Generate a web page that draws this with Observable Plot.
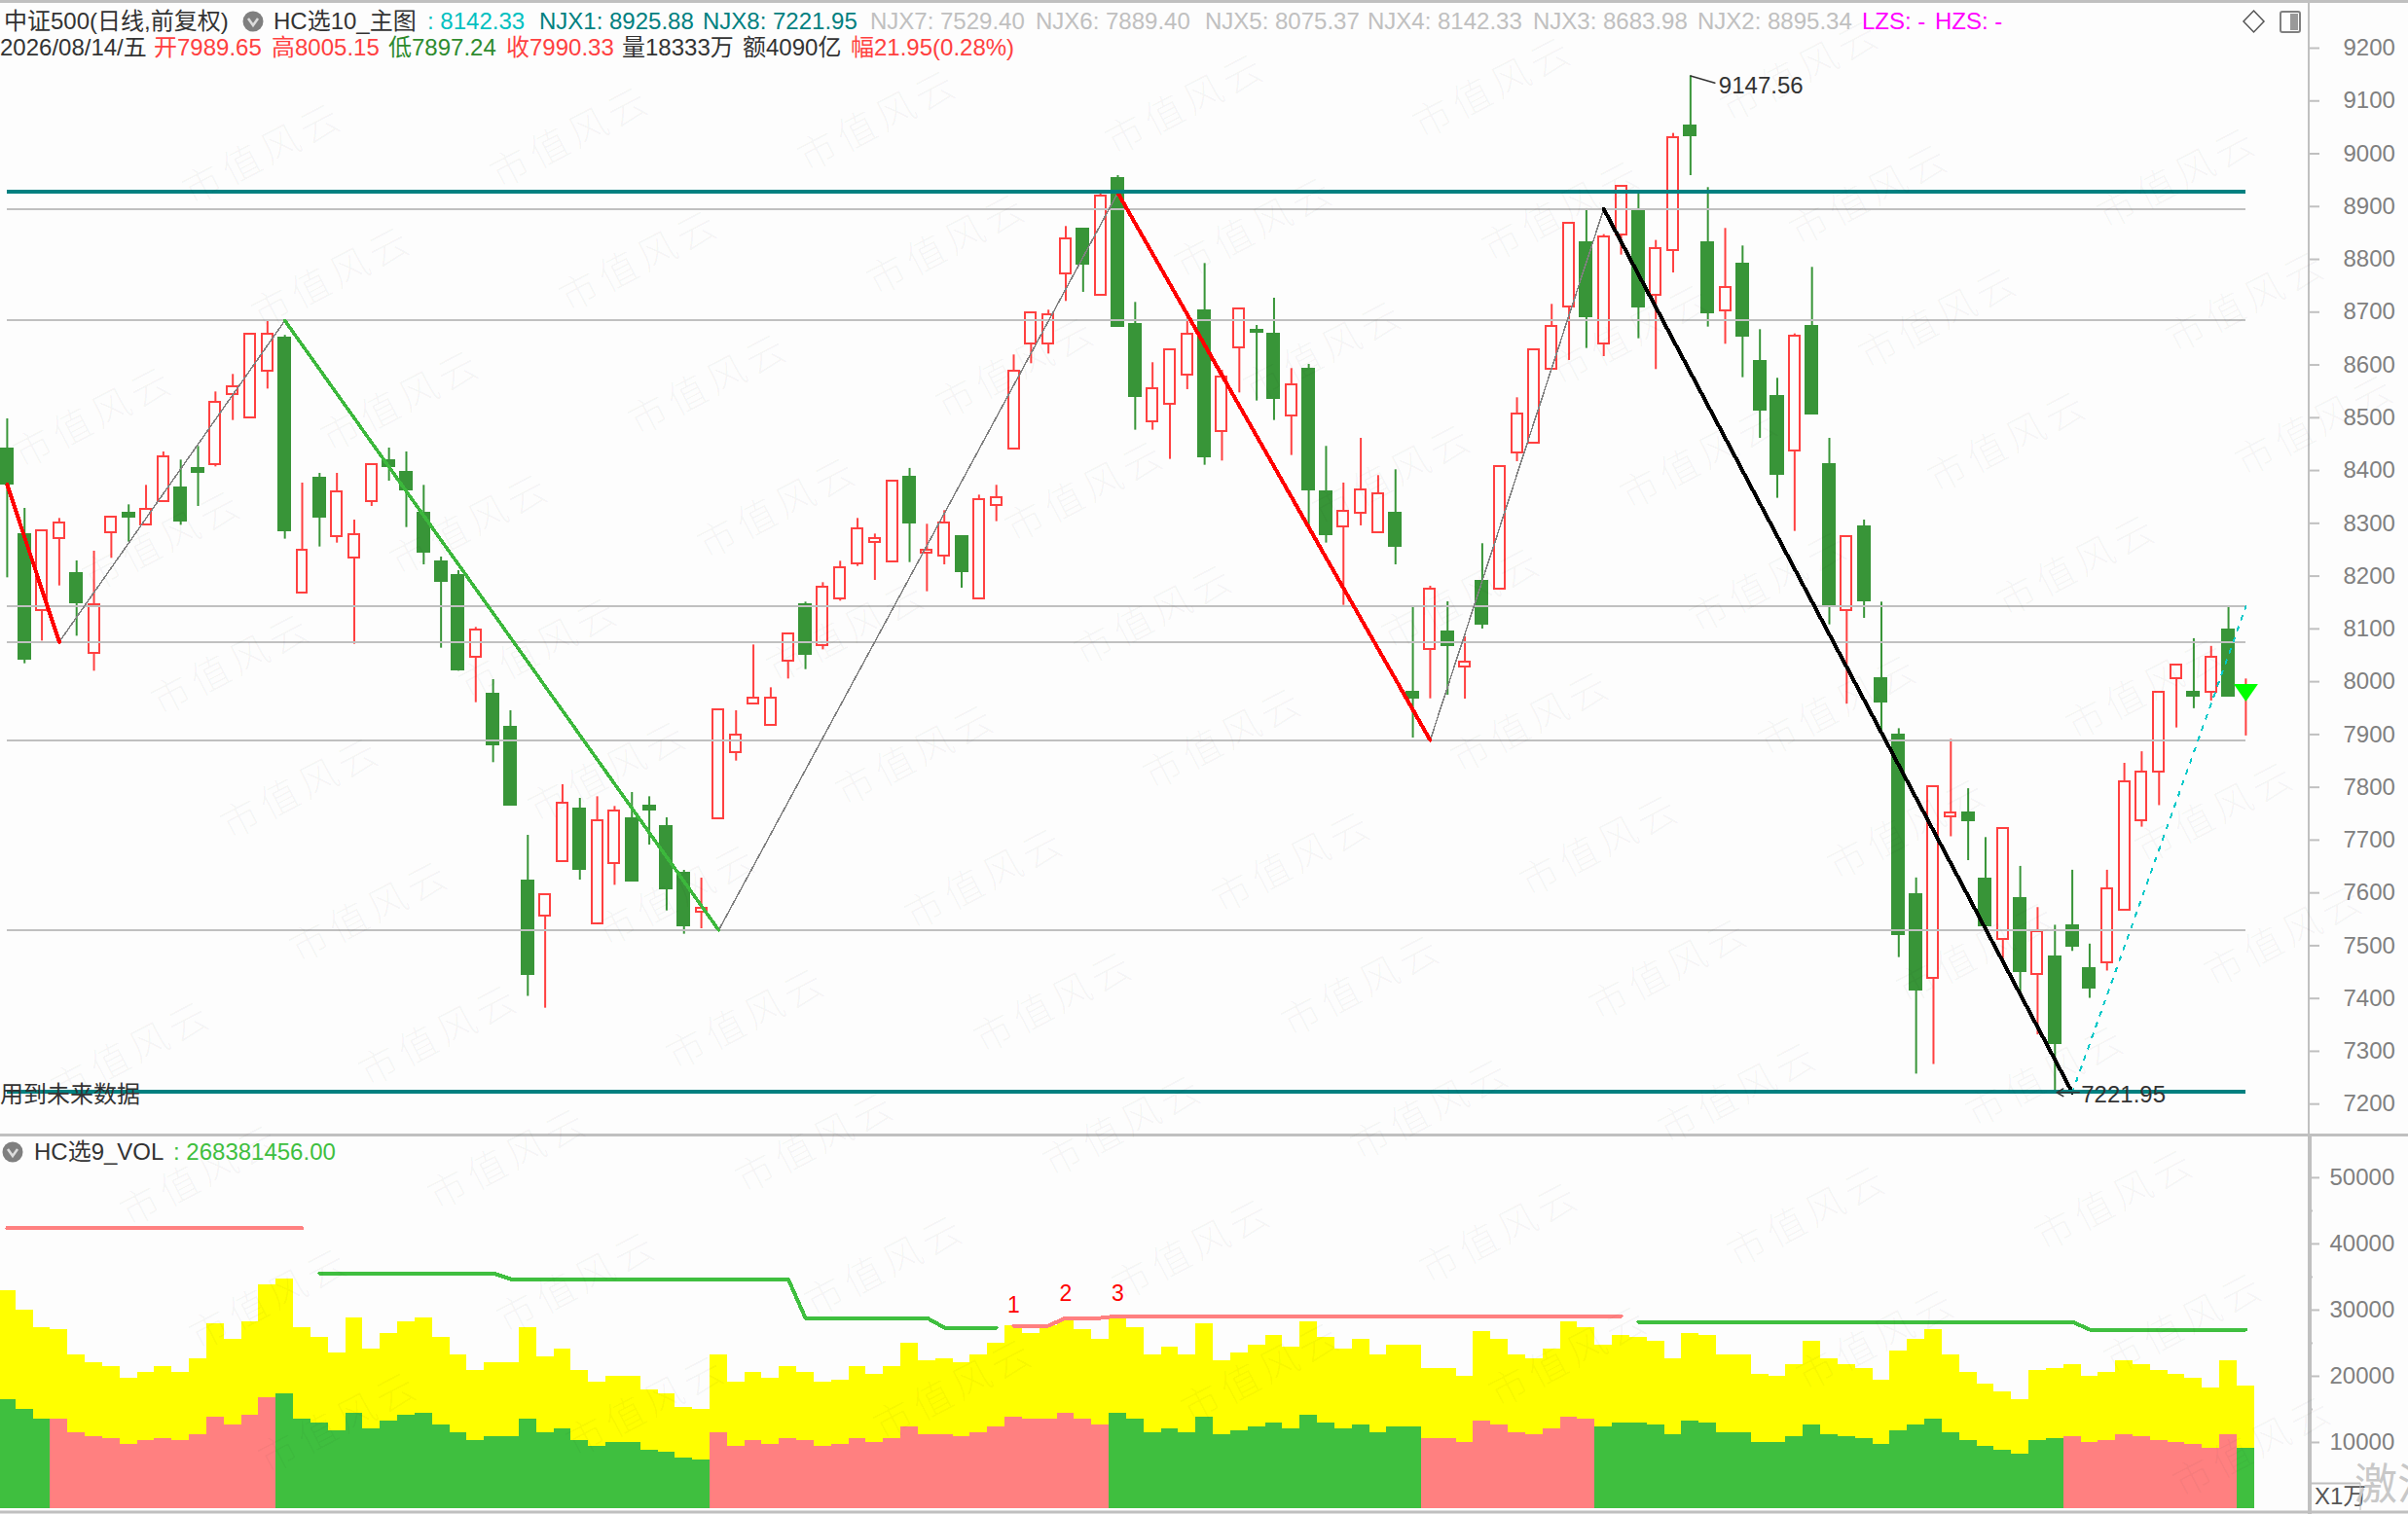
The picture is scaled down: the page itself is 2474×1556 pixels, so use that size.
<!DOCTYPE html>
<html><head><meta charset="utf-8">
<script src="https://cdn.jsdelivr.net/npm/d3@7"></script>
<script src="https://cdn.jsdelivr.net/npm/@observablehq/plot@0.6"></script>
<style>
html,body{margin:0;padding:0;background:#fdfdfd;width:2474px;height:1556px;overflow:hidden}
#page{position:relative;width:2474px;height:1556px;overflow:hidden}
#page>svg{position:absolute;left:0;display:block}
.t{position:absolute;white-space:pre;font:24px "Liberation Sans","Noto Sans CJK SC",sans-serif;line-height:28px;transform:translateY(-50%)}
</style></head><body><div id="page"></div>
<script>
const open=[8442.5,8280.4,8134.8,8270.5,8206.6,8053.7,8282.2,8320.9,8297,8341.2,
8368.8,8405.7,8410.6,8543.3,8499.7,8588.1,8653.2,8167.3,8387.2,8274.8,
8233.7,8341.2,8420.4,8398.3,8320.9,8228.8,8203,8046.3,7978.1,7915.5,
7624.3,7555.5,7658.7,7760.6,7541.3,7655.6,7742.2,7766.8,7727.5,7639,
7563.5,7739.7,7865.1,7958.4,7916.7,8038.9,8147,8067.8,8156.2,8222.6,
8263.1,8226.3,8389,8244,8237.3,8276.7,8156.2,8333.5,8440.8,8639.2,
8639.2,8773,8858.5,8731.9,8954.3,8678.5,8491.7,8525.5,8580.2,8703.7,
8473.3,8633,8666.8,8660.1,8503.4,8593.7,8361.5,8293.3,8319.1,8282,
8320.3,7981.8,8060.5,8096,8027.3,8192,8175.4,8433.4,8451.8,8591.5,
8709.8,8832.7,8639.8,8846.2,8892.3,8731.3,8816.1,9053.8,8832.7,8702.4,
8792.8,8608.5,8542.1,8436.4,8674.8,8413.1,8134.6,8295.2,8007.2,7900,
7597.7,7438.2,7744.1,7753.6,7628.3,7511.8,7590.4,7446.2,7479.7,7538.7,
7457.9,7468,7567.9,7736.9,7829.4,8005.7,7981.7,7979.5,8099.7,7989.65];
const close=[8373.1,8041.4,8286.5,8301.2,8147.7,8146.4,8312.3,8310.4,8327,8426.6,
8303.1,8395.2,8529.8,8559.3,8658.8,8658.8,8284.7,8249.6,8310.4,8360.2,
8279.1,8411.8,8405.7,8361.4,8244.1,8188.8,8019.9,8098.5,7879.2,7764.3,
7444.4,7597.2,7770.4,7642.7,7737.3,7755.7,7621.2,7754.5,7606.5,7536.4,
7571.4,7947.4,7899.5,7969.5,7969.5,8091.1,8049.4,8179.6,8216.5,8290.2,
8271.7,8379.9,8299.4,8249,8301.2,8207.2,8345.5,8349.1,8588.8,8698.8,
8695.7,8838.8,8789.7,8920.5,8671.7,8539,8555.6,8628.7,8658.8,8424.8,
8577.7,8706.7,8660.7,8535.4,8563,8362.1,8277.4,8323.4,8363.9,8356.6,
8255.2,7967,8175.9,8067.1,8036.5,8107.8,8408.2,8507.1,8628.7,8673,
8868.3,8690.2,8843.1,8939,8708.6,8820.4,9031.1,9033,8697.5,8746.7,
8653.3,8513.3,8391.6,8655.2,8505.9,8143.4,8275.2,8152.1,7960.5,7518.3,
7414.9,7800.3,7752.2,7735.4,7535.8,7722.3,7448.4,7527,7312.9,7496.5,
7418.5,7607.9,7811.2,7829.4,7980.2,8031.9,7971.5,8046.5,7971.5,7990.33];
const high=[8497.8,8328.3,8286.5,8309.2,8228.8,8247.2,8312.3,8335,8371.9,8435.2,
8419.8,8445.6,8548.8,8582,8658.8,8682.1,8656,8376.2,8394.6,8394.6,
8306.1,8411.8,8442.5,8435.2,8371.9,8236.1,8210.3,8102.8,8003.9,7945,
7709,7597.2,7804.9,7779.1,7782.1,7763.7,7790.1,7782.1,7742.2,7642.7,
7628,7947.4,7944.9,8069.6,7988.5,8091.1,8150.7,8187.6,8228.1,8309.2,
8279.7,8379.9,8404,8298.2,8324,8276.7,8353.4,8372,8618.9,8698.8,
8703.7,8862.2,8858.5,8924.8,8958.6,8718.4,8604.2,8628.7,8687,8792.1,
8590,8706.7,8674.8,8726.4,8593.1,8601.1,8445.7,8376.3,8461,8390.4,
8401.4,8140.3,8180.8,8151.3,8085,8261.4,8408.2,8537.8,8628.7,8714.7,
8868.3,8896,8846.8,8939,8924.8,8835.8,9038.5,9147.56,8935.9,8858.5,
8825.3,8666.8,8574.7,8658.8,8784.8,8461,8275.2,8306.2,8150.7,7911,
7628.3,7800.3,7890.6,7797.3,7704.8,7722.3,7650.2,7572.2,7538.7,7642.9,
7503,7642.9,7845.4,7867.3,7980.2,8031.9,8081.5,8066.9,8140.5,8005.15];
const low=[8196.8,8034,8077,8181.4,8086.2,8019.9,8233.7,8264.4,8297,8341.2,
8296.3,8332,8406.9,8494.8,8499.7,8554.3,8270,8167.3,8255.2,8262.5,
8070.9,8332,8379.9,8292,8221.4,8063.5,8019.9,7960.3,7846.7,7764.3,
7404,7381.6,7658.7,7624.2,7541.3,7614.4,7621.2,7690.6,7565.9,7521.7,
7532.1,7739.7,7849.7,7958.4,7916.7,8005.1,8022.9,8060.4,8152.6,8218.3,
8191.9,8226.3,8225.7,8170.4,8221.4,8177.1,8156.2,8303.2,8440.8,8602.3,
8620.7,8720.3,8737.5,8731.9,8671.7,8476.4,8476.4,8421.1,8553.2,8410,
8418,8547,8531.7,8494.8,8428.5,8289,8262.6,8144.6,8295.2,8282,
8221.4,7893.3,7967.6,7974.4,7967,8099.8,8175.4,8416.8,8451.8,8591.5,
8608.5,8631.2,8615.8,8808.1,8649.6,8591.3,8774.3,8958.6,8671.7,8639.2,
8575.9,8461,8347.4,8284.7,8505.9,8107.7,7957.6,8120,7905.2,7477.5,
7256.8,7275,7706.3,7661.1,7535.8,7475.3,7410,7331.1,7221.95,7489.2,
7400.3,7452,7567.9,7724.5,7765.3,7912.4,7948.9,7963.4,7971.5,7897.24];
const volTotal=[32928,29988,27342,27048,23226,22050,21462,19698,20580,21462,
20580,22638,27930,25578,28224,33810,34692,27342,25872,23520,
28812,24108,26460,28224,28812,25872,23226,20874,22050,22050,
27342,22932,24108,20874,19110,19992,19992,17934,17346,15288,
14994,23226,19110,20580,19698,21462,20580,19110,19404,21462,
20286,21462,24990,22344,22638,22050,23226,24990,27636,26460,
27636,28518,27048,25578,28812,27342,23226,24402,23226,27930,
22344,23520,24696,26166,24402,28224,25872,24108,25578,23226,
24696,24696,21168,21168,19992,26754,25578,23226,22638,24108,
28224,27342,24696,26166,25872,25284,22638,26460,26166,23226,
23226,20286,19992,21756,25284,22638,21756,21168,19404,23814,
25578,27048,23226,20580,18816,17640,16464,20874,21168,21756,
19992,20580,22344,21756,20874,20286,19698,18228,22344,18522];
const volInner=[16464,14994,13524,13524,11466,10878,10584,9702,10290,10584,
10290,11172,13818,12642,14112,16758,17346,13524,12936,11760,
14406,12054,13230,14112,14406,12642,11466,10290,10878,10878,
13524,11466,12054,10290,9408,9996,9996,8820,8526,7644,
7350,11466,9408,10290,9702,10584,10290,9408,9702,10584,
9996,10584,12348,11172,11172,10878,11466,12348,13818,13524,
13524,14406,13524,12642,14406,13524,11466,12054,11466,13818,
11172,11760,12348,12936,12054,14112,12936,12054,12642,11466,
12348,12348,10584,10584,9996,13230,12642,11466,11172,12054,
13818,13524,12348,12936,12936,12642,11172,13230,12936,11466,
11466,9996,9996,10878,12642,11172,10878,10584,9702,11760,
12642,13524,11466,10290,9408,8820,8232,10290,10584,10878,
9996,10290,11172,10878,10290,9996,9702,9114,11172,9114];
const volRedRuns=[[3,15],[41,63],[82,91],[119,128]];
const greyLevels=[8895.34,8683.98,8142.33,8075.37,7889.40,7529.40];
const tealLevels=[8925.88,7221.95];
const priceTicks=[9200,9100,9000,8900,8800,8700,8600,8500,8400,8300,8200,8100,8000,7900,7800,7700,7600,7500,7400,7300,7200];
const volTicks=[50000,40000,30000,20000,10000];
const volMinorTicks=[45000,35000,25000,15000];
const zigRed1=[[0,8373],[3,8075.37]];
const zigGrey1=[[3,8075.37],[16,8683.98]];
const zigGreen=[[16,8683.98],[41,7529.4]];
const zigGrey2=[[41,7529.4],[64,8925.88]];
const zigRed2=[[64,8925.88],[82,7889.4]];
const zigGrey3=[[82,7889.4],[92,8895.34]];
const zigBlack=[[92,8895.34],[119,7221.95]];
const zigCyan=[[119,7221.95],[129,8142.33]];
const volLinePink1=[[0,42385],[17,42385]];
const volLineGreen1=[[18,35574],[28,35574],[29,34692],[45,34692],[46,28812],[53,28812],[54,27342],[57,27342]];
const volLinePink2=[[58,27636],[60,27636],[61,28812],[63,28812],[64,29106],[93,29106]];
const volLineGreen2=[[94,28224],[119,28224],[120,27048],[129,27048]];
const volNumbers=[[58,30723,"1"],[61,32438,"2"],[64,32438,"3"]];
const extremes=[[97,9147.56,"9147.56"],[118,7221.95,"7221.95"]];

const RED="#ff4040",GREEN="#389538",BG="#fdfdfd",VG="#3fbf3f",VP="#ff8080";
const FONT='"Liberation Sans","Noto Sans CJK SC",sans-serif';
const I=d3.range(open.length);
const ups=I.filter(i=>close[i]>=open[i]), downs=I.filter(i=>close[i]<open[i]);
const page=document.getElementById("page");
const pline=(d,stroke,w,extra={})=>Plot.line(d,{x:r=>r[0],y:r=>r[1],stroke,strokeWidth:w,shapeRendering:"crispEdges",...extra});
const wideTriangle={draw(ctx,size){const s=Math.sqrt(size);ctx.moveTo(-s/2,-s*0.36);ctx.lineTo(s/2,-s*0.36);ctx.lineTo(0,s*0.36);ctx.closePath();}};

const price=Plot.plot({
  width:2474,height:1166,marginTop:0,marginBottom:0,marginLeft:0,marginRight:102,
  x:{axis:null,domain:[0,129],range:[6.9,2306.9]},
  y:{domain:[7200,9200],range:[1134.2,49]},
  style:{background:BG,fontFamily:FONT,overflow:"hidden"},
  marks:[
    Plot.ruleX(I,{x:i=>i,y1:i=>low[i],y2:i=>high[i],stroke:i=>close[i]>=open[i]?RED:GREEN,strokeWidth:2}),
    Plot.rect(downs,{x1:i=>i-0.393,x2:i=>i+0.393,y1:i=>open[i],y2:i=>close[i],fill:GREEN,shapeRendering:"crispEdges"}),
    Plot.rect(ups,{x1:i=>i-0.308,x2:i=>i+0.308,y1:i=>open[i],y2:i=>close[i],fill:BG,stroke:RED,strokeWidth:2,shapeRendering:"crispEdges"}),
    Plot.ruleY(greyLevels,{x1:0,x2:129,stroke:"#c0c0c0",strokeWidth:2,shapeRendering:"crispEdges"}),
    pline(zigGrey1,"#808080",1.5),pline(zigGrey2,"#808080",1.5),pline(zigGrey3,"#808080",1.5),
    pline(zigRed1,"#ff0000",4),pline(zigRed2,"#ff0000",4),
    pline(zigGreen,"#3cb83c",3.5),pline(zigBlack,"#000000",4),
    pline(zigCyan,"#00c8c8",2,{strokeDasharray:"4,8"}),
    Plot.ruleY(tealLevels,{x1:0,x2:129,dy:-1,stroke:"#008080",strokeWidth:3.5,shapeRendering:"crispEdges"}),
    Plot.dot([[129,7979]],{x:r=>r[0],y:r=>r[1],symbol:wideTriangle,r:14.1,fill:"#00ff00"}),
    Plot.arrow([[97,9147.56,98.4,9134]],{x1:r=>r[0],y1:r=>r[1],x2:r=>r[2],y2:r=>r[3],stroke:"#333",strokeWidth:1.5,headLength:0}),
    Plot.arrow([[119.4,7221.95,118.1,7221.95]],{x1:r=>r[0],y1:r=>r[1],x2:r=>r[2],y2:r=>r[3],stroke:"#333",strokeWidth:1.5,headLength:8,bend:0}),
    Plot.text(extremes.slice(0,1),{x:r=>r[0],y:r=>r[1],text:r=>r[2],dx:29,dy:10,textAnchor:"start",fontSize:24,fill:"#333"}),
    Plot.text(extremes.slice(1),{x:r=>r[0],y:r=>r[1],text:r=>r[2],dx:27,dy:3,textAnchor:"start",fontSize:24,fill:"#333"}),
    Plot.axisY({anchor:"right",ticks:priceTicks,tickSize:10,tickPadding:25,stroke:"#c0c0c0",fill:"#808080",fontSize:24,tickFormat:"d",label:null,strokeWidth:2})
  ]
});
price.style.top="0px";page.appendChild(price);

const vol=Plot.plot({
  width:2474,height:390,marginTop:0,marginBottom:0,marginLeft:0,marginRight:102,
  x:{axis:null,domain:[0,129],range:[6.9,2306.9]},
  y:{domain:[0,50000],range:[384,43.9]},
  style:{background:BG,fontFamily:FONT,overflow:"hidden"},
  marks:[
    Plot.rect(I,{x1:i=>i-0.5,x2:i=>i+0.5,y1:0,y2:i=>volTotal[i],fill:"#ffff00",shapeRendering:"crispEdges"}),
    Plot.rect(I,{x1:i=>i-0.5,x2:i=>i+0.5,y1:0,y2:i=>volInner[i],fill:i=>volRedRuns.some(r=>i>=r[0]&&i<=r[1])?VP:VG,shapeRendering:"crispEdges"}),
    pline(volLinePink1,VP,4),pline(volLineGreen1,VG,4),pline(volLinePink2,VP,4),pline(volLineGreen2,VG,4),
    Plot.text(volNumbers,{x:r=>r[0],y:r=>r[1],text:r=>r[2],fontSize:23,fill:"#ff0000"}),
    Plot.axisY({anchor:"right",ticks:volTicks,tickSize:10,tickPadding:11,stroke:"#c0c0c0",fill:"#808080",fontSize:24,tickFormat:"d",label:null,strokeWidth:2}),
    Plot.axisY({anchor:"right",ticks:volMinorTicks,tickSize:3,tickFormat:()=>"",stroke:"#c0c0c0",label:null,strokeWidth:2})
  ]
});
vol.style.top="1166px";page.appendChild(vol);

const headers=[
 ["中证500(日线,前复权)",4,22,"#333"],["HC选10_主图",281,22,"#333"],[": 8142.33",439,22,"#00c0c0"],
 ["NJX1: 8925.88",554,22,"#008080"],["NJX8: 7221.95",722,22,"#008080"],
 ["NJX7: 7529.40",894,22,"#c0c0c0"],["NJX6: 7889.40",1064,22,"#c0c0c0"],["NJX5: 8075.37",1238,22,"#c0c0c0"],
 ["NJX4: 8142.33",1405,22,"#c0c0c0"],["NJX3: 8683.98",1575,22,"#c0c0c0"],["NJX2: 8895.34",1744,22,"#c0c0c0"],
 ["LZS: -",1913,22,"#ff00ff"],["HZS: -",1988,22,"#ff00ff"],
 ["2026/08/14/五",0,49,"#333"],["开7989.65",158,49,RED],["高8005.15",279,49,RED],["低7897.24",399,49,"#2e8b2e"],
 ["收7990.33",520,49,RED],["量18333万",639,49,"#333"],["额4090亿",763,49,"#333"],["幅21.95(0.28%)",874,49,RED],
 ["用到未来数据",0,1125,"#333"],
 ["HC选9_VOL",35,1184,"#333"],[": 268381456.00",178,1184,VG],["X1万",2378,1538,"#555"]
];
headers.forEach(([s,x,y,c])=>{const e=document.createElement("div");e.className="t";e.textContent=s;e.style.left=x+"px";e.style.top=y+"px";e.style.color=c;page.appendChild(e)});

// chrome and watermark overlay
const ov=d3.create("svg").attr("width",2474).attr("height",1556).style("top","0px").style("pointer-events","none");
const G="#c0c0c0";
const L=(x1,y1,x2,y2,w=2,c=G)=>ov.append("line").attr("x1",x1).attr("y1",y1).attr("x2",x2).attr("y2",y2).attr("stroke",c).attr("stroke-width",w);
L(0,1.5,2474,1.5,3);L(2372,0,2372,1556,2);L(2373.5,1166,2373.5,1556,3);L(0,1166.5,2474,1166.5,3);L(0,1554,2474,1554,3);
L(2375,1524.5,2425,1524.5,2);L(2425,1524,2425,1552,1);
[[260,22],[13,1184]].forEach(([x,y])=>{
  ov.append("circle").attr("cx",x).attr("cy",y).attr("r",10.5).attr("fill","#7f7f7f");
  ov.append("path").attr("d",`M${x-5} ${y-3}L${x} ${y+4}L${x+5} ${y-3}`).attr("fill","none").attr("stroke","#ddd").attr("stroke-width",2.5);
});
ov.append("path").attr("d","M2315.5 11L2326 22L2315.5 33L2305 22Z").attr("fill","none").attr("stroke","#555").attr("stroke-width",1.5);
ov.append("rect").attr("x",2343).attr("y",12).attr("width",20).attr("height",21).attr("rx",2).attr("fill","none").attr("stroke","#808080").attr("stroke-width",2);
ov.append("rect").attr("x",2353).attr("y",14).attr("width",8).attr("height",17).attr("fill","#999");
ov.append("text").attr("x",2419).attr("y",1541).attr("font-size",44).attr("fill","#c8c8c8").attr("font-family",FONT).text("激活");
for(let n=-8;n<=8;n++)for(let m=-6;m<=7;m++){
  const x=1011+316*m+71*n,y=900-17*m+127*n;
  if(x<84||x>2390||y<60||y>1496)continue;
  ov.append("text").attr("transform",`translate(${x},${y}) rotate(-27.5)`).attr("text-anchor","middle").attr("dominant-baseline","central")
    .attr("font-size",40).attr("letter-spacing",5).attr("font-family",'"Noto Sans CJK SC"').attr("font-weight",300).attr("fill","rgba(0,0,0,0.04)").text("市值风云");
}
page.appendChild(ov.node());
</script></body></html>
